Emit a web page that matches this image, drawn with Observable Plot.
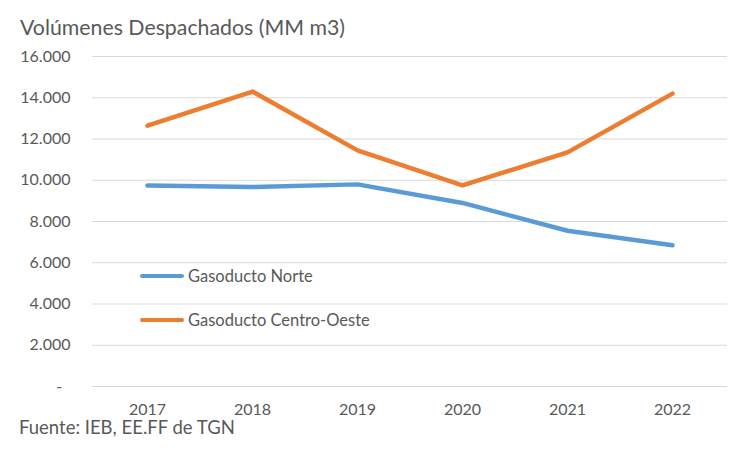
<!DOCTYPE html>
<html>
<head>
<meta charset="utf-8">
<script src="https://cdn.jsdelivr.net/npm/d3@7"></script>
<script src="https://cdn.jsdelivr.net/npm/@observablehq/plot@0.6"></script>
<style>
  body { margin: 0; background: #fff; }
  #chart { position: relative; width: 750px; height: 450px; font-family: Lato, "Open Sans", sans-serif; color: #595959; }
  #title { position: absolute; left: 20px; top: 14px; font-size: 21.3px; white-space: nowrap; }
  #caption { position: absolute; left: 19px; top: 416px; font-size: 18.5px; line-height: 22px; white-space: nowrap; }
  .legend { position: absolute; left: 140px; font-size: 16.5px; display: flex; align-items: center; white-space: nowrap; }
  .legend .sw { width: 44px; height: 4.5px; border-radius: 3px; margin-right: 4px; }
</style>
</head>
<body>
<div id="chart">
  <div id="title"></div>
  <div id="caption"></div>
</div>
<script>
// Volúmenes despachados por gasoducto (MM m3)
const years = ["2017", "2018", "2019", "2020", "2021", "2022"];
const seriesNames = ["Gasoducto Norte", "Gasoducto Centro-Oeste"];
const norte = [9750, 9670, 9800, 8900, 7550, 6850];
const centroOeste = [12650, 14300, 11450, 9750, 11350, 14200];
const yTicks = [0, 2000, 4000, 6000, 8000, 10000, 12000, 14000, 16000];
const colors = ["#5b9bd5", "#ed7d31"];
const titleText = "Volúmenes Despachados (MM m3)";
const captionText = "Fuente: IEB, EE.FF de TGN";

const rows = [
  ...years.map((year, i) => ({year, value: norte[i], serie: seriesNames[0]})),
  ...years.map((year, i) => ({year, value: centroOeste[i], serie: seriesNames[1]}))
];

const fmt = d => d === 0 ? "-\u00a0\u00a0" : d3.format(",")(d).replace(/,/g, ".");

const plot = Plot.plot({
  width: 750,
  height: 450,
  marginTop: 56,
  marginBottom: 64,
  marginLeft: 92,
  marginRight: 23,
  style: {fontFamily: "Lato, 'Open Sans', sans-serif", fontSize: "16px", color: "#595959", background: "transparent"},
  x: {type: "point", domain: years, padding: 0.5, label: null, tickSize: 0, tickPadding: 17},
  y: {domain: [0, 16000], ticks: yTicks, label: null, tickSize: 0, tickPadding: 22, tickFormat: fmt},
  color: {domain: seriesNames, range: colors},
  marks: [
    Plot.gridY(yTicks, {stroke: "#d9d9d9", strokeOpacity: 1, strokeWidth: 1}),
    Plot.line(rows, {x: "year", y: "value", z: "serie", stroke: "serie", strokeWidth: 4.5, strokeLinecap: "round", strokeLinejoin: "round"})
  ]
});

const chart = document.getElementById("chart");
chart.insertBefore(plot, chart.firstChild);
plot.style.position = "absolute";
plot.style.left = "0";
plot.style.top = "0";
document.getElementById("title").textContent = titleText;
document.getElementById("caption").textContent = captionText;

// legend placed inside the plotting area
const legendTops = [266, 310];
seriesNames.forEach((name, i) => {
  const item = document.createElement("div");
  item.className = "legend";
  item.style.top = legendTops[i] + "px";
  const sw = document.createElement("div");
  sw.className = "sw";
  sw.style.background = colors[i];
  const label = document.createElement("span");
  label.textContent = name;
  item.appendChild(sw);
  item.appendChild(label);
  chart.appendChild(item);
});
</script>
</body>
</html>
